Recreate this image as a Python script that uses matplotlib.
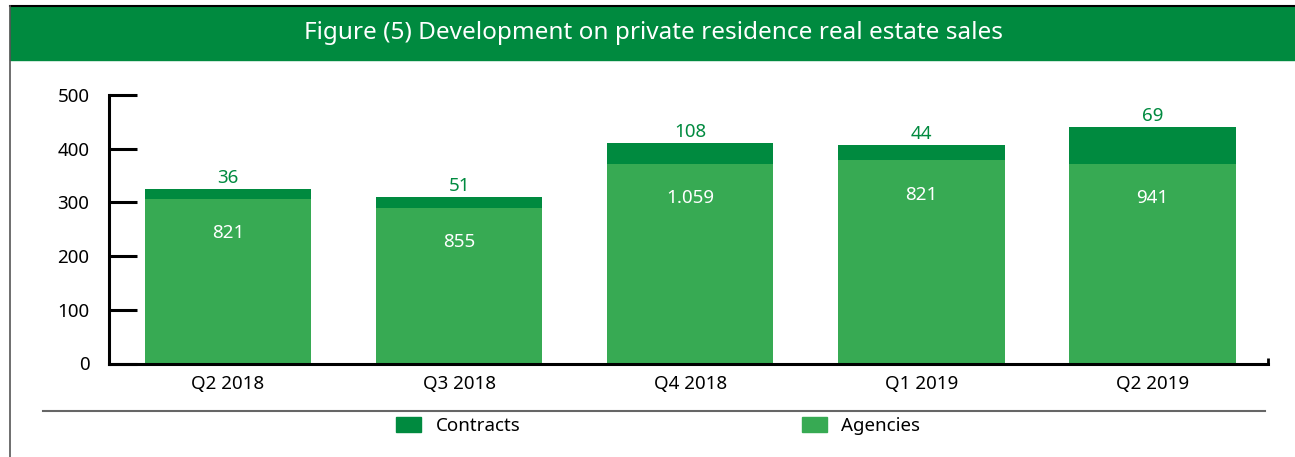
import matplotlib.pyplot as plt
from matplotlib.patches import Rectangle, Patch
from matplotlib.lines import Line2D

# data (bar heights) and the printed labels
quarters = ['Q2 2018', 'Q3 2018', 'Q4 2018', 'Q1 2019', 'Q2 2019']
agencies = [307, 290, 372, 379, 372]
contracts = [18, 20, 39, 28, 68]
agencies_labels = ['821', '855', '1.059', '821', '941']
contracts_labels = ['36', '51', '108', '44', '69']

dark_green = '#008A3F'
light_green = '#37AA53'

plt.rcParams['font.family'] = ['Noto Sans', 'DejaVu Sans']

fig = plt.figure(figsize=(12.95, 4.57), dpi=100)
W, H = 1295, 457

# title banner
fig.patches.append(Rectangle((10 / W, 1 - 60 / H), 1 - 10 / W, 53 / H,
                             transform=fig.transFigure, color=dark_green, zorder=0))
fig.add_artist(Line2D([10 / W, 1], [1 - 6 / H, 1 - 6 / H], color='black', lw=1.5,
                      transform=fig.transFigure))
fig.add_artist(Line2D([10 / W, 10 / W], [0, 1 - 6 / H], color='#555555', lw=1.2,
                      transform=fig.transFigure))
fig.text(653 / W, 1 - 33 / H, 'Figure (5) Development on private residence real estate sales',
         color='white', fontsize=17.5, ha='center', va='center')

ax = fig.add_axes([109 / W, 93.5 / H, (1268 - 109) / W, 268.5 / H])
x = range(len(quarters))
ax.bar(x, agencies, width=0.72, color=light_green, zorder=2)
bottoms = agencies
ax.bar(x, contracts, width=0.72, bottom=bottoms, color=dark_green, zorder=2)

for i in x:
    ax.annotate(agencies_labels[i], (i, agencies[i]), xytext=(0, -25),
                textcoords='offset points', ha='center', va='center',
                color='white', fontsize=13.5)
    ax.annotate(contracts_labels[i], (i, agencies[i] + contracts[i]), xytext=(0, 8),
                textcoords='offset points', ha='center', va='center',
                color=dark_green, fontsize=13.5)

ax.set_xlim(-0.515, 4.5)
ax.set_ylim(0, 500)
ax.set_yticks([0, 100, 200, 300, 400, 500])
ax.set_xticks(list(x))
ax.set_xticklabels(quarters)
ax.set_xticks([4.5], minor=True)
ax.tick_params(axis='y', direction='in', length=20, width=2.2, pad=14, labelsize=13.5)
ax.tick_params(axis='x', which='major', length=0, pad=8, labelsize=13.5)
ax.tick_params(axis='x', which='minor', direction='in', length=4, width=2)
for s in ['top', 'right']:
    ax.spines[s].set_visible(False)
for s in ['left', 'bottom']:
    ax.spines[s].set_linewidth(2.2)

# separator above the legend
fig.add_artist(Line2D([43 / W, 1265 / W], [1 - 410.5 / H, 1 - 410.5 / H],
                      color='#666666', lw=1.5, transform=fig.transFigure))

handles = [Patch(color=dark_green, label='Contracts'),
           Patch(color=light_green, label='Agencies')]
fig.legend(handles=handles, loc='center', bbox_to_anchor=(658 / W, 1 - 426 / H),
           ncol=2, frameon=False, fontsize=13.5, handlelength=1.35, handleheight=0.8,
           handletextpad=0.75, columnspacing=15.0)

fig.savefig('out.png', dpi=100)
